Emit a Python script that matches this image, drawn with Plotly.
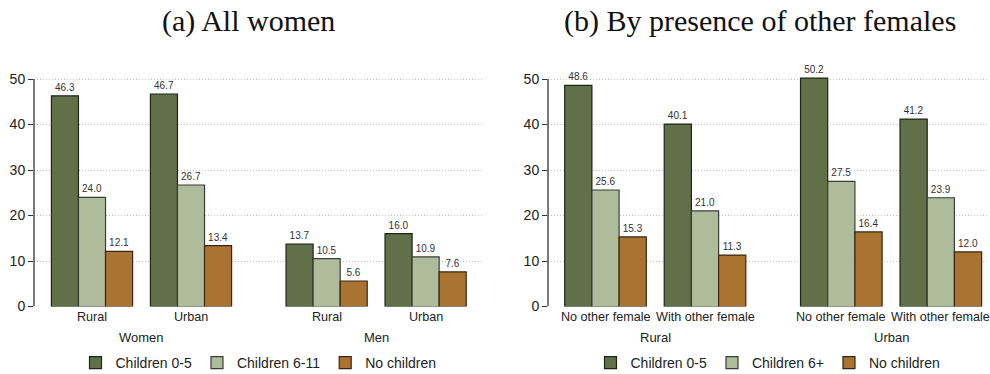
import plotly.graph_objects as go

# ---- data -------------------------------------------------------------
series_a = ["Children 0-5", "Children 6-11", "No children"]
groups_a = ["Rural", "Urban", "Rural", "Urban"]
supers_a = ["Women", "Men"]
vals_a = {
    "Children 0-5": [46.3, 46.7, 13.7, 16.0],
    "Children 6-11": [24.0, 26.7, 10.5, 10.9],
    "No children": [12.1, 13.4, 5.6, 7.6],
}

series_b = ["Children 0-5", "Children 6+", "No children"]
groups_b = ["No other female", "With other female", "No other female", "With other female"]
supers_b = ["Rural", "Urban"]
vals_b = {
    "Children 0-5": [48.6, 40.1, 50.2, 41.2],
    "Children 6+": [25.6, 21.0, 27.5, 23.9],
    "No children": [15.3, 11.3, 16.4, 12.0],
}

yticks = [0, 10, 20, 30, 40, 50]

# ---- styling ----------------------------------------------------------
colors = ["#62704A", "#AEBC9C", "#A97432"]
outline = ["#1f2416", "#3a3d36", "#3a2410"]
SANS = "Liberation Sans, Arial, sans-serif"
SERIF = "Liberation Serif, Times New Roman, serif"
TXT = "#222222"
W, H = 990, 374

# x positions: two groups per block, with a wider gap between blocks
SUPER_GAP = 1.37
xpos = [0, 1, 1 + SUPER_GAP, 2 + SUPER_GAP]

fig = go.Figure()


def add_panel(series, vals, xaxis, yaxis, legend):
    for i, name in enumerate(series):
        v = vals[name]
        fig.add_trace(go.Bar(
            x=xpos, y=v, name=name,
            xaxis=xaxis, yaxis=yaxis, legend=legend,
            marker=dict(color=colors[i], line=dict(color=outline[i], width=1.2)),
            text=[f"{t:.1f}" for t in v], textposition="outside",
            textfont=dict(family=SANS, size=10, color="#333333"),
            cliponaxis=False,
        ))


add_panel(series_a, vals_a, "x", "y", "legend")
add_panel(series_b, vals_b, "x2", "y2", "legend2")

# vertical scale: 0 at 306.5 px, 50 at 79 px; headroom above 50 for the tallest bar
Y0_PX, Y50_PX, YTOP = 306.5, 79.0, 53.0
ppu = (Y0_PX - Y50_PX) / 50
ydom = [(H - Y0_PX) / H, (H - (Y0_PX - YTOP * ppu)) / H]
yaxis_style = dict(
    range=[0, YTOP], tickvals=yticks, showline=False,
    ticks="outside", ticklen=5, tickcolor="#333333",
    tickfont=dict(family=SANS, size=14, color=TXT),
    showgrid=True, gridcolor="#c4c4c4", griddash="1px,2px", gridwidth=1,
    zeroline=False, domain=ydom,
)
xaxis_style = dict(
    showline=False, showgrid=False, zeroline=False, ticks="", showticklabels=False,
)

# panel extents in pixels and one x-unit in pixels
px_a = (34, 483, 92, 99.0)
px_b = (548, 988, 605.5, 99.5)


def xrange(p):
    left, right, c0, unit = p
    start = -(c0 - left) / unit
    return [start, start + (right - left) / unit]


legend_style = dict(orientation="h", xanchor="center", y=(H - 363) / H, yanchor="middle",
                    font=dict(family=SANS, size=14, color=TXT), itemwidth=30, tracegroupgap=0)

fig.update_layout(
    width=W, height=H, margin=dict(l=0, r=0, t=0, b=0, autoexpand=False),
    paper_bgcolor="white", plot_bgcolor="white",
    barmode="group", bargap=0.18, bargroupgap=0,
    xaxis=dict(xaxis_style, domain=[px_a[0] / W, px_a[1] / W], range=xrange(px_a)),
    xaxis2=dict(xaxis_style, domain=[px_b[0] / W, px_b[1] / W], range=xrange(px_b), anchor="y2"),
    yaxis=dict(yaxis_style, anchor="x", automargin=False),
    yaxis2=dict(yaxis_style, anchor="x2", automargin=False),
    legend=dict(legend_style, x=(px_a[0] + px_a[1]) / 2 / W),
    legend2=dict(legend_style, x=(px_b[0] + px_b[1]) / 2 / W),
    showlegend=True,
)

# y-axis spine from 0 to 50
for xa, ya in (("x", "y"), ("x2", "y2")):
    fig.add_shape(type="line", xref=f"{xa} domain", yref=ya, x0=0, x1=0, y0=0, y1=max(yticks),
                  line=dict(color="#333333", width=1.3))

# group labels and block labels below the axis
for xa, groups, supers in (("x", groups_a, supers_a), ("x2", groups_b, supers_b)):
    for xv, lab in zip(xpos, groups):
        fig.add_annotation(x=xv, xref=xa, y=(H - 317) / H, yref="paper", yanchor="middle",
                           text=lab, showarrow=False, font=dict(family=SANS, size=12.6, color=TXT))
    for k, lab in enumerate(supers):
        fig.add_annotation(x=(xpos[2 * k] + xpos[2 * k + 1]) / 2, xref=xa,
                           y=(H - 337) / H, yref="paper", yanchor="middle",
                           text=lab, showarrow=False, font=dict(family=SANS, size=13, color=TXT))

# panel titles
for cx, title in ((248, "(a) All women"), (760, "(b) By presence of other females")):
    fig.add_annotation(x=cx / W, y=(H - 21) / H, xref="paper", yref="paper",
                       xanchor="center", yanchor="middle", text=title, showarrow=False,
                       font=dict(family=SERIF, size=30, color="#111111"))

fig.write_html("out.html")
